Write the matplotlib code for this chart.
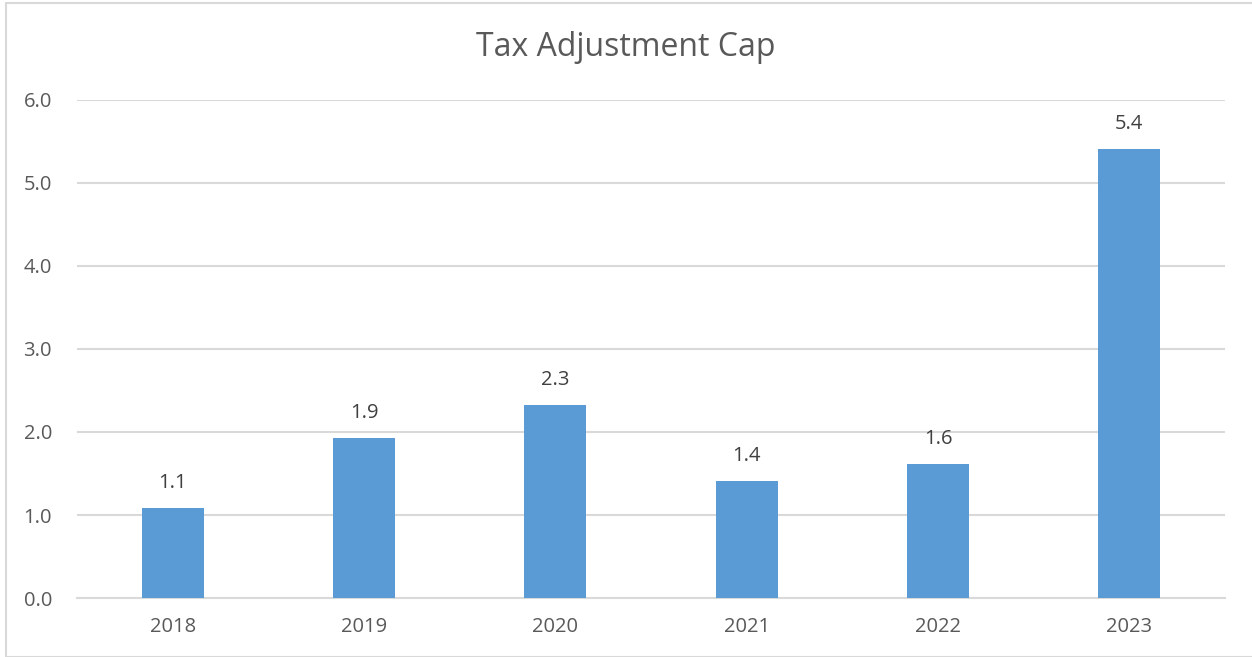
import matplotlib.pyplot as plt
from matplotlib.patches import Rectangle

years = ["2018", "2019", "2020", "2021", "2022", "2023"]
cap_values = [1.08, 1.93, 2.32, 1.41, 1.61, 5.41]
y_ticks = [0, 1, 2, 3, 4, 5, 6]

plt.rcParams['font.family'] = ['Open Sans', 'DejaVu Sans']

fig = plt.figure(figsize=(12.52, 6.57), dpi=100)
ax = fig.add_axes([0.0615, 0.0898, 0.9169, 0.758])

# outer chart border like the spreadsheet chart frame
fig.patches.append(Rectangle((6 / 1252, 0), 1.2, 1 - 3 / 657, transform=fig.transFigure,
                             fill=False, edgecolor="#d9d9d9", linewidth=1.5))

x = range(len(years))
bars = ax.bar(x, cap_values, width=0.325, color="#5b9bd5", zorder=3)

for rect, v in zip(bars, cap_values):
    ax.annotate(f"{v:.1f}", (rect.get_x() + rect.get_width() / 2, v),
                xytext=(0, 11), textcoords="offset points", ha="center", va="bottom",
                fontsize=14.5, color="#404040")

ax.set_xlim(-0.5, len(years) - 0.5)
ax.set_ylim(0, 6)
ax.set_yticks(y_ticks)
ax.set_yticklabels([f"{t:.1f}" for t in y_ticks])
ax.set_xticks(list(x))
ax.set_xticklabels(years)
ax.tick_params(length=0, labelsize=14.5, labelcolor="#595959")
ax.tick_params(axis="y", pad=18)
ax.tick_params(axis="x", pad=14)
ax.grid(axis="y", color="#d9d9d9", linewidth=1.5, zorder=0)
for s in ["top", "right", "left"]:
    ax.spines[s].set_visible(False)
ax.spines["bottom"].set_color("#d9d9d9")
ax.spines["bottom"].set_linewidth(1.5)

fig.text(0.5, 1 - 47 / 657, "Tax Adjustment Cap", ha="center", va="center",
         fontsize=23, color="#595959")

fig.savefig("out.png", dpi=100)
